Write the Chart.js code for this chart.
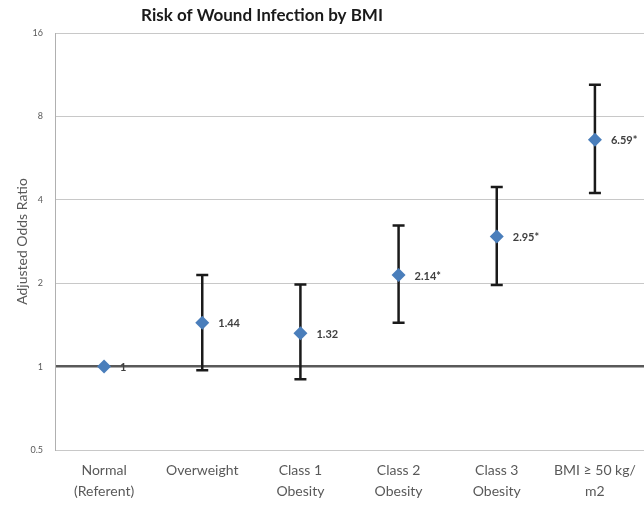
<!DOCTYPE html>
<html>
<head>
<meta charset="utf-8">
<script src="https://cdn.jsdelivr.net/npm/chart.js@4"></script>
<style>
  html, body { margin: 0; padding: 0; background: #fff; }
  #wrap { width: 644px; height: 508px; }
</style>
</head>
<body>
<div id="wrap"><canvas id="chart"></canvas></div>
<script>
const categories = [["Normal", "(Referent)"], "Overweight", ["Class 1", "Obesity"], ["Class 2", "Obesity"], ["Class 3", "Obesity"], ["BMI \u2265 50 kg/", "m2"]];
const oddsRatios = [1, 1.44, 1.32, 2.14, 2.95, 6.59];
const ciLower = [null, 0.97, 0.90, 1.44, 1.97, 4.23];
const ciUpper = [null, 2.14, 1.98, 3.23, 4.45, 10.4];
const pointLabels = ["1", "1.44", "1.32", "2.14*", "2.95*", "6.59*"];
const yTicks = [0.5, 1, 2, 4, 8, 16];

const FONT = "Lato, 'Open Sans', sans-serif";

// error bars drawn under the diamonds
const errorBars = {
    id: "errorBars",
    beforeDatasetsDraw(chart) {
        const ctx = chart.ctx;
        const x = chart.scales.x, y = chart.scales.y;
        ctx.save();
        ctx.strokeStyle = "#1a1a1a";
        ctx.lineWidth = 2.5;
        for (let i = 0; i < categories.length; i++) {
            if (ciLower[i] == null) continue;
            const px = x.getPixelForValue(i);
            const top = y.getPixelForValue(ciUpper[i]);
            const bot = y.getPixelForValue(ciLower[i]);
            ctx.beginPath();
            ctx.moveTo(px, top); ctx.lineTo(px, bot);
            ctx.moveTo(px - 6, top); ctx.lineTo(px + 6, top);
            ctx.moveTo(px - 6, bot); ctx.lineTo(px + 6, bot);
            ctx.stroke();
        }
        ctx.restore();
    },
    afterDatasetsDraw(chart) {
        const ctx = chart.ctx;
        const meta = chart.getDatasetMeta(0);
        ctx.save();
        ctx.font = "bold 11px " + FONT;
        ctx.fillStyle = "#404040";
        ctx.textBaseline = "middle";
        meta.data.forEach((pt, i) => {
            ctx.fillText(pointLabels[i], pt.x + 16, pt.y + 1);
        });
        ctx.restore();
    },
    afterDraw(chart) {
        const ctx = chart.ctx;
        ctx.save();
        ctx.font = "bold 17px " + FONT;
        ctx.fillStyle = "#1a1a1a";
        ctx.textAlign = "center";
        ctx.textBaseline = "middle";
        ctx.fillText("Risk of Wound Infection by BMI", 262, 16);
        ctx.restore();
    }
};

new Chart(document.getElementById("chart"), {
    type: "line",
    data: {
        labels: categories,
        datasets: [{
            data: oddsRatios,
            showLine: false,
            pointStyle: "rectRot",
            pointRadius: 7,
            pointHoverRadius: 7,
            backgroundColor: "#4a7ebb",
            borderColor: "#4a7ebb",
            borderWidth: 0
        }]
    },
    options: {
        responsive: true,
        maintainAspectRatio: false,
        animation: false,
        layout: { autoPadding: false, padding: { top: 33, right: 0, left: 0, bottom: 0 } },
        plugins: {
            legend: { display: false },
            tooltip: { enabled: false }
        },
        scales: {
            x: {
                offset: true,
                grid: { display: false, drawTicks: false },
                border: { display: false },
                ticks: {
                    color: "#595959",
                    font: { family: FONT, size: 14, lineHeight: 1.5 },
                    padding: 10,
                    maxRotation: 0,
                    autoSkip: false
                },
                afterFit(axis) {
                    axis.height = 58;
                    axis.paddingLeft = 0;
                    axis.paddingRight = 0;
                }
            },
            y: {
                type: "logarithmic",
                min: 0.5,
                max: 16,
                afterBuildTicks(axis) { axis.ticks = yTicks.map(v => ({ value: v })); },
                grid: {
                    drawTicks: false,
                    color: ctx => (ctx.tick && ctx.tick.value === 1) ? "#595959" : "#c8c8c8",
                    lineWidth: ctx => (ctx.tick && ctx.tick.value === 1) ? 2.5 : 1
                },
                border: { display: true, color: "#b0b0b0", width: 1 },
                ticks: {
                    color: "#595959",
                    font: { family: FONT, size: 9 },
                    padding: 12,
                    callback: v => String(v)
                },
                title: {
                    display: true,
                    text: "Adjusted Odds Ratio",
                    color: "#595959",
                    font: { family: FONT, size: 14 },
                    padding: { top: 14, bottom: 0 }
                },
                afterFit(axis) { axis.width = 55; }
            }
        }
    },
    plugins: [errorBars]
});
</script>
</body>
</html>
